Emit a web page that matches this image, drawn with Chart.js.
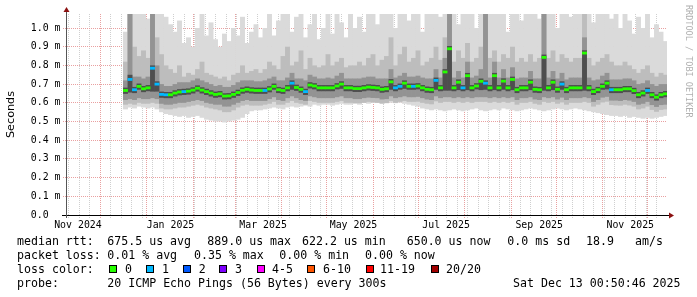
<!DOCTYPE html>
<html>
<head>
<meta charset="utf-8">
<script src="https://cdn.jsdelivr.net/npm/chart.js@4.4.1/dist/chart.umd.min.js"></script>
<style>
  html, body { margin: 0; padding: 0; background: #fff; }
  canvas { display: block; }
</style>
</head>
<body>
<canvas id="smoke" width="697" height="297"></canvas>
<script>
// x is days counted from 2024-11-09, one RRD sample every 3 days from day 39
const firstDay = 39;
const stepDays = 3;

// median rtt per sample (ms)
const median = [
  0.666, 0.725, 0.670, 0.688, 0.675, 0.680, 0.785, 0.700, 0.645, 0.643,
  0.643, 0.652, 0.658, 0.660, 0.662, 0.668, 0.678, 0.668, 0.660, 0.652,
  0.645, 0.648, 0.636, 0.637, 0.645, 0.655, 0.667, 0.672, 0.668, 0.666,
  0.666, 0.666, 0.674, 0.688, 0.670, 0.666, 0.680, 0.705, 0.682, 0.672,
  0.660, 0.695, 0.690, 0.680, 0.680, 0.680, 0.680, 0.690, 0.700, 0.680,
  0.680, 0.676, 0.676, 0.680, 0.684, 0.682, 0.680, 0.672, 0.675, 0.712,
  0.680, 0.688, 0.705, 0.688, 0.688, 0.690, 0.680, 0.672, 0.670, 0.720,
  0.680, 0.765, 0.889, 0.680, 0.710, 0.680, 0.745, 0.680, 0.690, 0.715,
  0.705, 0.680, 0.745, 0.680, 0.716, 0.680, 0.725, 0.670, 0.680, 0.680,
  0.710, 0.672, 0.670, 0.843, 0.680, 0.710, 0.672, 0.700, 0.670, 0.680,
  0.680, 0.680, 0.866, 0.680, 0.660, 0.670, 0.688, 0.705, 0.670, 0.670,
  0.670, 0.675, 0.675, 0.665, 0.643, 0.652, 0.666, 0.643, 0.630, 0.643,
  0.648
];

// lost pings (of 20) per sample
const loss = [
  0, 1, 1, 0, 0, 0, 1, 1, 1, 1,
  0, 0, 0, 1, 0, 0, 0, 0, 0, 0,
  0, 0, 0, 0, 0, 0, 0, 0, 0, 0,
  0, 1, 0, 0, 0, 0, 0, 1, 0, 0,
  1, 0, 0, 0, 0, 0, 0, 0, 0, 0,
  0, 0, 0, 0, 0, 0, 0, 0, 0, 0,
  1, 1, 0, 0, 1, 0, 0, 0, 0, 1,
  0, 0, 0, 0, 0, 1, 0, 0, 0, 0,
  1, 0, 0, 0, 0, 0, 0, 0, 0, 0,
  0, 0, 0, 0, 0, 0, 0, 1, 0, 0,
  0, 0, 0, 0, 0, 0, 0, 0, 1, 0,
  0, 0, 0, 0, 0, 0, 1, 0, 0, 0,
  0
];

// smoke: slowest / fastest ping
const pingMax = [
  0.98, 1.1, 1.1, 1.1, 1.1, 1.05, 1.1, 1.1, 1.1, 1.06,
  1.02, 0.98, 1.04, 0.92, 0.95, 0.9, 1.0, 1.1, 0.96, 1.03,
  0.94, 0.9, 0.97, 0.93, 1.0, 0.96, 1.06, 0.92, 0.98, 1.02,
  0.95, 1.0, 1.1, 0.96, 1.04, 1.1, 1.1, 0.98, 1.06, 1.1,
  0.95, 1.02, 1.1, 0.94, 1.0, 1.08, 0.97, 1.1, 1.03, 0.95,
  1.1, 1.0, 1.06, 0.98, 1.1, 1.1, 1.02, 1.1, 1.1, 1.1,
  1.0, 1.1, 1.1, 1.04, 1.1, 1.1, 0.98, 1.1, 1.1, 1.1,
  1.06, 1.1, 1.1, 1.1, 1.02, 1.1, 1.1, 1.1, 1.0, 1.1,
  1.1, 1.08, 1.1, 1.1, 1.1, 0.98, 1.1, 1.1, 1.04, 1.1,
  1.1, 1.1, 1.05, 1.1, 1.1, 1.1, 1.0, 1.1, 1.1, 1.06,
  1.1, 1.1, 1.1, 1.1, 1.03, 1.1, 1.1, 1.1, 1.05, 1.1,
  1.0, 1.1, 1.04, 0.97, 1.06, 1.0, 1.08, 0.95, 1.02, 0.98,
  0.93
];
const pingMin = [
  0.565, 0.575, 0.57, 0.58, 0.575, 0.57, 0.575, 0.565, 0.55, 0.54,
  0.535, 0.53, 0.525, 0.53, 0.52, 0.525, 0.53, 0.52, 0.51, 0.505,
  0.5, 0.5, 0.495, 0.5, 0.505, 0.51, 0.52, 0.54, 0.555, 0.56,
  0.56, 0.565, 0.57, 0.575, 0.57, 0.565, 0.575, 0.58, 0.575, 0.58,
  0.585, 0.58, 0.59, 0.585, 0.59, 0.59, 0.585, 0.59, 0.595, 0.59,
  0.59, 0.595, 0.59, 0.6, 0.595, 0.6, 0.6, 0.6, 0.6, 0.6,
  0.598, 0.6, 0.595, 0.59, 0.585, 0.58, 0.57, 0.565, 0.56, 0.565,
  0.56, 0.555, 0.56, 0.565, 0.56, 0.555, 0.56, 0.565, 0.57, 0.56,
  0.555, 0.56, 0.565, 0.56, 0.57, 0.565, 0.56, 0.555, 0.56, 0.565,
  0.57, 0.565, 0.56, 0.555, 0.56, 0.565, 0.57, 0.565, 0.56, 0.565,
  0.57, 0.565, 0.56, 0.555, 0.55, 0.545, 0.54, 0.535, 0.53, 0.53,
  0.525, 0.53, 0.52, 0.525, 0.52, 0.515, 0.52, 0.515, 0.52, 0.525,
  0.53
];

// smoke: outer quartile band
const upperMid = [
  0.82, 1.1, 0.9, 0.85, 0.88, 0.84, 1.1, 0.95, 0.86, 0.8,
  0.78, 0.76, 0.8, 0.74, 0.76, 0.75, 0.78, 0.82, 0.76, 0.75,
  0.74, 0.73, 0.74, 0.72, 0.75, 0.76, 0.8, 0.76, 0.77, 0.78,
  0.76, 0.78, 0.82, 0.8, 0.78, 0.85, 0.9, 0.8, 0.82, 0.88,
  0.78, 0.84, 0.8, 0.79, 0.8, 0.86, 0.8, 0.82, 0.84, 0.79,
  0.8, 0.8, 0.82, 0.8, 0.84, 0.86, 0.8, 0.83, 0.85, 0.95,
  0.8, 0.86, 0.9, 0.82, 0.84, 0.88, 0.8, 0.82, 0.84, 0.9,
  0.83, 0.95, 1.1, 0.82, 0.88, 0.84, 0.92, 0.82, 0.84, 0.9,
  1.1, 0.84, 0.88, 0.82, 0.86, 0.84, 0.9, 0.82, 0.84, 0.82,
  0.86, 0.82, 0.84, 1.1, 0.84, 0.88, 0.82, 0.86, 0.84, 0.82,
  0.84, 0.84, 1.1, 0.84, 0.8, 0.82, 0.84, 0.86, 0.82, 0.8,
  0.8, 0.82, 0.8, 0.78, 0.76, 0.78, 0.8, 0.76, 0.74, 0.76,
  0.75
];
const lowerMid = [
  0.59, 0.595, 0.59, 0.6, 0.595, 0.595, 0.6, 0.595, 0.57, 0.565,
  0.565, 0.57, 0.575, 0.575, 0.58, 0.585, 0.59, 0.585, 0.575, 0.57,
  0.565, 0.56, 0.55, 0.55, 0.56, 0.575, 0.585, 0.59, 0.585, 0.585,
  0.585, 0.59, 0.595, 0.605, 0.59, 0.59, 0.6, 0.61, 0.6, 0.595,
  0.59, 0.61, 0.605, 0.6, 0.6, 0.6, 0.6, 0.605, 0.61, 0.6,
  0.6, 0.598, 0.598, 0.6, 0.605, 0.602, 0.6, 0.595, 0.598, 0.61,
  0.6, 0.605, 0.61, 0.605, 0.605, 0.606, 0.6, 0.595, 0.592, 0.608,
  0.6, 0.605, 0.605, 0.6, 0.605, 0.6, 0.605, 0.6, 0.605, 0.605,
  0.605, 0.6, 0.605, 0.6, 0.605, 0.6, 0.605, 0.59, 0.6, 0.6,
  0.605, 0.595, 0.59, 0.605, 0.6, 0.605, 0.595, 0.602, 0.59, 0.6,
  0.6, 0.6, 0.605, 0.6, 0.58, 0.59, 0.602, 0.606, 0.588, 0.586,
  0.585, 0.59, 0.586, 0.58, 0.565, 0.57, 0.58, 0.562, 0.552, 0.562,
  0.565
];

// smoke: inner band
const upperDark = [
  0.72, 1.1, 0.74, 0.74, 0.73, 0.74, 1.1, 0.8, 0.70, 0.69,
  0.69, 0.70, 0.71, 0.71, 0.71, 0.72, 0.73, 0.72, 0.71, 0.70,
  0.69, 0.695, 0.685, 0.685, 0.695, 0.71, 0.72, 0.72, 0.72, 0.715,
  0.715, 0.72, 0.73, 0.74, 0.72, 0.72, 0.735, 0.76, 0.73, 0.73,
  0.72, 0.75, 0.74, 0.73, 0.73, 0.735, 0.73, 0.745, 0.76, 0.73,
  0.73, 0.73, 0.73, 0.735, 0.74, 0.74, 0.73, 0.73, 0.73, 0.78,
  0.735, 0.745, 0.76, 0.74, 0.74, 0.745, 0.735, 0.73, 0.73, 0.78,
  0.735, 0.84, 1.1, 0.735, 0.77, 0.735, 0.82, 0.735, 0.745, 0.78,
  1.1, 0.735, 0.82, 0.735, 0.78, 0.735, 0.79, 0.73, 0.735, 0.735,
  0.77, 0.73, 0.73, 1.1, 0.735, 0.77, 0.73, 0.76, 0.725, 0.735,
  0.735, 0.735, 0.95, 0.735, 0.72, 0.725, 0.745, 0.76, 0.725, 0.725,
  0.725, 0.73, 0.73, 0.72, 0.70, 0.705, 0.72, 0.70, 0.69, 0.70,
  0.70
];
const lowerDark = [
  0.615, 0.62, 0.615, 0.625, 0.62, 0.62, 0.625, 0.62, 0.595, 0.59,
  0.59, 0.595, 0.6, 0.6, 0.605, 0.61, 0.615, 0.61, 0.6, 0.595,
  0.59, 0.59, 0.58, 0.58, 0.59, 0.6, 0.61, 0.615, 0.61, 0.61,
  0.61, 0.61, 0.62, 0.63, 0.615, 0.61, 0.625, 0.635, 0.625, 0.615,
  0.61, 0.635, 0.63, 0.625, 0.625, 0.625, 0.625, 0.63, 0.635, 0.625,
  0.625, 0.62, 0.62, 0.625, 0.628, 0.626, 0.625, 0.618, 0.62, 0.635,
  0.625, 0.63, 0.635, 0.63, 0.63, 0.632, 0.625, 0.618, 0.615, 0.635,
  0.625, 0.63, 0.63, 0.625, 0.63, 0.625, 0.63, 0.625, 0.63, 0.63,
  0.63, 0.625, 0.63, 0.625, 0.63, 0.625, 0.63, 0.615, 0.625, 0.625,
  0.63, 0.618, 0.615, 0.63, 0.625, 0.63, 0.618, 0.628, 0.615, 0.625,
  0.625, 0.625, 0.63, 0.625, 0.605, 0.615, 0.628, 0.632, 0.612, 0.612,
  0.61, 0.615, 0.612, 0.605, 0.59, 0.595, 0.605, 0.588, 0.578, 0.588,
  0.59
];

// smoke: pings closest to the median
const upperCore = [
  0.681, 0.750, 0.685, 0.703, 0.690, 0.695, 0.800, 0.715, 0.660, 0.658,
  0.658, 0.667, 0.673, 0.675, 0.677, 0.683, 0.693, 0.683, 0.675, 0.667,
  0.660, 0.663, 0.651, 0.652, 0.660, 0.670, 0.682, 0.687, 0.683, 0.681,
  0.681, 0.681, 0.689, 0.703, 0.685, 0.681, 0.695, 0.720, 0.697, 0.687,
  0.675, 0.710, 0.705, 0.695, 0.695, 0.695, 0.695, 0.705, 0.715, 0.695,
  0.695, 0.691, 0.691, 0.695, 0.699, 0.697, 0.695, 0.687, 0.690, 0.727,
  0.695, 0.703, 0.720, 0.703, 0.703, 0.705, 0.695, 0.687, 0.685, 0.735,
  0.695, 0.780, 0.904, 0.695, 0.725, 0.695, 0.760, 0.695, 0.705, 0.730,
  0.720, 0.695, 0.760, 0.695, 0.731, 0.695, 0.740, 0.685, 0.695, 0.695,
  0.725, 0.687, 0.685, 0.858, 0.695, 0.725, 0.687, 0.715, 0.685, 0.695,
  0.695, 0.695, 0.881, 0.695, 0.675, 0.685, 0.703, 0.720, 0.685, 0.685,
  0.685, 0.690, 0.690, 0.680, 0.658, 0.667, 0.681, 0.658, 0.645, 0.658,
  0.663
];
const lowerCore = [
  0.648, 0.655, 0.652, 0.670, 0.657, 0.662, 0.660, 0.660, 0.627, 0.625,
  0.625, 0.634, 0.640, 0.642, 0.644, 0.650, 0.660, 0.650, 0.642, 0.634,
  0.627, 0.630, 0.618, 0.619, 0.627, 0.637, 0.649, 0.654, 0.650, 0.648,
  0.648, 0.648, 0.656, 0.670, 0.652, 0.648, 0.662, 0.670, 0.664, 0.654,
  0.642, 0.677, 0.672, 0.662, 0.662, 0.662, 0.662, 0.672, 0.675, 0.662,
  0.662, 0.658, 0.658, 0.662, 0.666, 0.664, 0.662, 0.654, 0.657, 0.670,
  0.662, 0.670, 0.675, 0.670, 0.670, 0.672, 0.662, 0.654, 0.652, 0.670,
  0.662, 0.665, 0.665, 0.662, 0.668, 0.662, 0.668, 0.662, 0.672, 0.668,
  0.670, 0.662, 0.668, 0.662, 0.670, 0.662, 0.668, 0.652, 0.662, 0.662,
  0.668, 0.654, 0.652, 0.665, 0.662, 0.668, 0.654, 0.670, 0.652, 0.662,
  0.662, 0.662, 0.665, 0.662, 0.642, 0.652, 0.670, 0.672, 0.652, 0.652,
  0.652, 0.657, 0.657, 0.647, 0.625, 0.634, 0.648, 0.625, 0.612, 0.625,
  0.630
];

// axis ticks
const monthStartDays = [22, 53, 84, 112, 143, 173, 204, 234, 265, 296, 326, 357, 387];
const monthLabels = ['Nov 2024', 'Jan 2025', 'Mar 2025', 'May 2025', 'Jul 2025', 'Sep 2025', 'Nov 2025'];
const monthLabelDays = [7.3, 69, 130.7, 191, 252.7, 314.8, 375.5];
const yTickValues = [0, 0.1, 0.2, 0.3, 0.4, 0.5, 0.6, 0.7, 0.8, 0.9, 1.0];
const yTickLabels = ['0.0  ', '0.1 m', '0.2 m', '0.3 m', '0.4 m', '0.5 m', '0.6 m', '0.7 m', '0.8 m', '0.9 m', '1.0 m'];

// loss colour legend
const lossLabels = ['0', '1', '2', '3', '4-5', '6-10', '11-19', '20/20'];
const lossColors = ['#26ff00', '#00b8ff', '#0059ff', '#7e00ff', '#ff00ff', '#ff5500', '#ff0000', '#a10000'];

function lossColor(n) {
  if (n <= 3) return lossColors[n];
  if (n <= 5) return lossColors[4];
  if (n <= 10) return lossColors[5];
  if (n <= 19) return lossColors[6];
  return lossColors[7];
}

const X_MIN = 0, X_MAX = 400, PLOT_W = 600;
const days = median.map((_, i) => firstDay + i * stepDays);
const band = (lo, hi) => days.map((d, i) => ({ x: d, y: [lo[i], hi[i]] }));
const medianHalf = 0.0075; // half height of the median mark
const barPx = stepDays * PLOT_W / (X_MAX - X_MIN) + 0.4; // one sample wide, slight overlap

// weekly (Sunday) minor grid, monthly major grid, labels mid-month
const xTicks = [];
for (let d = 1; d < X_MAX; d += 7) {
  if (!monthStartDays.includes(d)) xTicks.push({ value: d, kind: 'week' });
}
monthStartDays.forEach(d => xTicks.push({ value: d, kind: 'month' }));
monthLabelDays.forEach((d, i) => xTicks.push({ value: d, kind: 'label', text: monthLabels[i] }));
xTicks.sort((a, b) => a.value - b.value);

const MONO = 'DejaVu Sans Mono';
const MAJOR = '#e9a0a0';
const MINOR = '#cfcfcf';

const decorations = {
  id: 'decorations',
  afterDraw(chart) {
    const ctx = chart.ctx;
    const a = chart.chartArea;
    ctx.save();

    // axes with arrow heads
    ctx.strokeStyle = '#000';
    ctx.lineWidth = 1;
    ctx.beginPath();
    ctx.moveTo(a.left - 5, a.bottom + 0.5);
    ctx.lineTo(a.right + 3, a.bottom + 0.5);
    ctx.stroke();
    ctx.strokeStyle = '#555';
    ctx.beginPath();
    ctx.moveTo(a.left - 0.5, a.bottom + 3);
    ctx.lineTo(a.left - 0.5, a.top - 3);
    ctx.stroke();
    ctx.fillStyle = '#8b1010';
    ctx.beginPath();
    ctx.moveTo(a.left - 3.5, a.top - 2);
    ctx.lineTo(a.left + 2.5, a.top - 2);
    ctx.lineTo(a.left - 0.5, a.top - 7);
    ctx.closePath();
    ctx.fill();
    ctx.beginPath();
    ctx.moveTo(a.right + 2, a.bottom - 2.5);
    ctx.lineTo(a.right + 2, a.bottom + 3.5);
    ctx.lineTo(a.right + 7, a.bottom + 0.5);
    ctx.closePath();
    ctx.fill();

    // legend block
    ctx.fillStyle = '#000';
    ctx.font = '11.6px "' + MONO + '"';
    ctx.textBaseline = 'alphabetic';
    const rows = [
      [245, [[17, 'median rtt:'], [107.3, '675.5 us avg'], [207.3, '889.0 us max'], [302, '622.2 us min'],
             [406.7, '650.0 us now'], [507.3, '0.0 ms sd'], [586, '18.9'], [635, 'am/s']]],
      [258.8, [[17, 'packet loss:'], [107.3, '0.01 % avg'], [194, '0.35 % max'], [279.3, '0.00 % min'], [365, '0.00 % now']]],
      [272.6, [[17, 'loss color:']]],
      [286.5, [[17, 'probe:'], [107.3, '20 ICMP Echo Pings (56 Bytes) every 300s'], [513, 'Sat Dec 13 00:50:46 2025']]]
    ];
    rows.forEach(([y, items]) => items.forEach(([x, t]) => ctx.fillText(t, x, y)));

    const boxX = [109, 145.7, 182.7, 219.3, 256.7, 306.7, 365.7, 430.7];
    const textX = [125, 162, 198.7, 235, 272, 323, 380, 446];
    lossLabels.forEach((lab, i) => {
      ctx.fillStyle = lossColors[i];
      ctx.fillRect(Math.round(boxX[i]) + 0.5, 265.5, 7, 7);
      ctx.strokeStyle = '#000';
      ctx.strokeRect(Math.round(boxX[i]) + 0.5, 265.5, 7, 7);
      ctx.fillStyle = '#000';
      ctx.fillText(lab, textX[i], 272.6);
    });

    // watermark
    ctx.translate(688, 5);
    ctx.rotate(Math.PI / 2);
    ctx.fillStyle = '#b0b0b0';
    ctx.font = '8.5px "' + MONO + '"';
    ctx.textBaseline = 'middle';
    ctx.fillText('RRDTOOL / TOBI OETIKER', 0, 0);
    ctx.restore();
  }
};

new Chart(document.getElementById('smoke'), {
  type: 'bar',
  data: {
    datasets: [
      { label: 'median', data: days.map((d, i) => ({ x: d, y: [median[i] - medianHalf, median[i] + medianHalf] })),
        backgroundColor: loss.map(lossColor), order: 0 },
      { label: 'core', data: band(lowerCore, upperCore), backgroundColor: '#4e4e4e', order: 1 },
      { label: 'inner', data: band(lowerDark, upperDark), backgroundColor: '#939393', order: 2 },
      { label: 'outer', data: band(lowerMid, upperMid), backgroundColor: '#bdbdbd', order: 3 },
      { label: 'range', data: band(pingMin, pingMax), backgroundColor: '#dadada', order: 4 }
    ]
  },
  options: {
    responsive: false,
    animation: false,
    devicePixelRatio: 1,
    layout: { padding: { left: 0, top: 14, right: 30, bottom: 62 } },
    datasets: { bar: { grouped: false, barThickness: barPx, borderWidth: 0, inflateAmount: 0 } },
    plugins: { legend: { display: false }, tooltip: { enabled: false } },
    scales: {
      x: {
        type: 'linear', min: X_MIN, max: X_MAX, offset: false, z: 1,
        afterBuildTicks: s => { s.ticks = xTicks; },
        afterFit: s => { s.height = 20; },
        grid: {
          offset: false, lineWidth: 1, tickLength: 3, tickBorderDash: [1, 1],
          color: c => c.tick.kind === 'month' ? MAJOR : (c.tick.kind === 'week' ? MINOR : 'rgba(0,0,0,0)')
        },
        border: { display: false, dash: [1, 1] },
        ticks: {
          autoSkip: false, maxRotation: 0, minRotation: 0, padding: 1, color: '#000',
          font: { family: MONO, size: 9.9 },
          callback: (v, i, t) => t[i].text || ''
        }
      },
      y: {
        min: 0, max: 1.075, z: 1,
        afterBuildTicks: s => { s.ticks = yTickValues.map((v, i) => ({ value: v, text: yTickLabels[i] })); },
        afterFit: s => { s.width = 67; },
        grid: { color: MAJOR, lineWidth: 1, tickLength: 4, tickBorderDash: [1, 1] },
        border: { display: false, dash: [1, 1] },
        ticks: {
          padding: 2.5, color: '#000', font: { family: MONO, size: 9.9 },
          callback: (v, i, t) => t[i].text
        },
        title: {
          display: true, text: 'Seconds', color: '#000',
          font: { family: 'DejaVu Sans', size: 11.2 }, padding: { top: 4, bottom: 0 }
        }
      }
    }
  },
  plugins: [decorations]
});
</script>
</body>
</html>
